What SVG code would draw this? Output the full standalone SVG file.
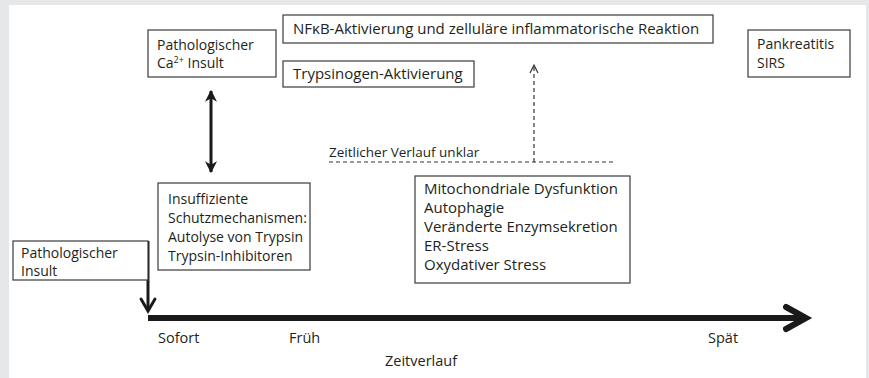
<svg xmlns="http://www.w3.org/2000/svg" width="869" height="378" viewBox="0 0 869 378">
  <style>
    text { font-family: "Open Sans", "Noto Sans", "Liberation Sans", sans-serif; fill: #231f20; }
    .lbl { font-size: 14px; }
    .big { font-size: 15px; }
    .small { font-size: 13.5px; }
    .axis-lbl { font-size: 14.5px; }
    .box { fill: #ffffff; stroke: #3a3a3a; stroke-width: 1.2; }
    .dash { fill: none; stroke: #333333; stroke-width: 1.2; stroke-dasharray: 4 3; }
  </style>
  <defs>
    <marker id="solidHead" viewBox="0 0 10 10" refX="9" refY="5" markerWidth="4" markerHeight="4" orient="auto-start-reverse" markerUnits="strokeWidth">
      <path d="M0,0 L10,5 L0,10 L3,5 Z" fill="#1a1a1a"/>
    </marker>
  </defs>

  <!-- page background and panel -->
  <rect x="0" y="0" width="869" height="378" fill="#e6e7e8"/>
  <rect x="9" y="5" width="857" height="373" fill="#ffffff"/>

  <!-- connectors -->
  <g id="connectors">
    <!-- reversible link between Ca2+ insult and protective mechanisms -->
    <line x1="211" y1="91" x2="211" y2="172" stroke="#1a1a1a" stroke-width="3" marker-start="url(#solidHead)" marker-end="url(#solidHead)"/>
    <!-- uncertain time course -->
    <line class="dash" x1="329" y1="162" x2="615" y2="162"/>
    <line class="dash" x1="534" y1="162" x2="534" y2="66"/>
    <polyline points="530,73 534,65 538,73" fill="none" stroke="#333333" stroke-width="1.2"/>
    <!-- insult onto the time axis -->
    <line x1="148" y1="241" x2="148" y2="309" stroke="#1a1a1a" stroke-width="3"/>
    <polyline points="141,299 148,311 155,299" fill="none" stroke="#1a1a1a" stroke-width="3" stroke-linecap="round" stroke-linejoin="miter"/>
    <!-- time axis -->
    <line x1="148" y1="318" x2="803" y2="318" stroke="#1a1a1a" stroke-width="6"/>
    <polyline points="786,307 806,318 786,329" fill="none" stroke="#1a1a1a" stroke-width="6" stroke-linecap="round" stroke-linejoin="miter"/>
  </g>

  <g id="ca-insult">
    <rect class="box" x="148" y="30" width="128" height="47"/>
    <text class="lbl" x="157" y="50">Pathologischer</text>
    <text class="lbl" x="157" y="68">Ca<tspan font-size="9" dy="-5">2+</tspan><tspan dy="5"> Insult</tspan></text>
  </g>

  <g id="nfkb">
    <rect class="box" x="283" y="15" width="430" height="28"/>
    <text class="big" x="293" y="34">NFκB-Aktivierung und zelluläre inflammatorische Reaktion</text>
  </g>

  <g id="trypsinogen">
    <rect class="box" x="283" y="61" width="191" height="26"/>
    <text class="big" x="293" y="79">Trypsinogen-Aktivierung</text>
  </g>

  <g id="pankreatitis">
    <rect class="box" x="748" y="30" width="102" height="47"/>
    <text class="lbl" x="757" y="49" font-size="14.5">Pankreatitis</text>
    <text class="lbl" x="757" y="68" font-size="14.5">SIRS</text>
  </g>

  <g id="schutz">
    <rect class="box" x="158" y="183" width="152" height="87"/>
    <text class="lbl" x="168" y="204">Insuffiziente</text>
    <text class="lbl" x="168" y="223">Schutzmechanismen:</text>
    <text class="lbl" x="168" y="242">Autolyse von Trypsin</text>
    <text class="lbl" x="168" y="261">Trypsin-Inhibitoren</text>
  </g>

  <g id="insult">
    <rect class="box" x="13" y="241" width="135" height="39"/>
    <text class="lbl" x="21" y="258" font-size="14.5">Pathologischer</text>
    <text class="lbl" x="21" y="276" font-size="14.5">Insult</text>
  </g>

  <g id="mechanismen">
    <rect class="box" x="415" y="176" width="215" height="107"/>
    <text class="big" x="424" y="194">Mitochondriale Dysfunktion</text>
    <text class="big" x="424" y="213">Autophagie</text>
    <text class="big" x="424" y="232">Veränderte Enzymsekretion</text>
    <text class="big" x="424" y="251">ER-Stress</text>
    <text class="big" x="424" y="270">Oxydativer Stress</text>
  </g>

  <g id="unklar">
    <text class="small" x="329" y="157">Zeitlicher Verlauf unklar</text>
  </g>

  <g id="axis-labels">
    <text class="axis-lbl" x="158" y="343">Sofort</text>
    <text class="axis-lbl" x="289" y="343">Früh</text>
    <text class="axis-lbl" x="708" y="343">Spät</text>
    <text class="axis-lbl" x="385" y="366">Zeitverlauf</text>
  </g>
</svg>
